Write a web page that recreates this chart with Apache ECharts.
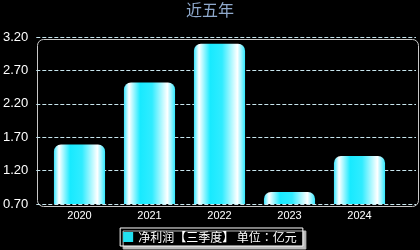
<!DOCTYPE html>
<html><head><meta charset="utf-8">
<style>html,body{margin:0;padding:0;background:#000;}#c{width:420px;height:250px;}</style>
<script src="https://cdn.jsdelivr.net/npm/echarts@6/dist/echarts.min.js"></script>
</head><body><div id="c"></div>
<script>
var categories = ['2020','2021','2022','2023','2024'];
var values = [1.59, 2.52, 3.10, 0.88, 1.42];
var seriesName = '净利润【三季度】 单位：亿元';
var titleText = '近五年';

var chart = echarts.init(document.getElementById('c'), null, {renderer:'canvas'});
var G = {left:35, right:4, top:37, bottom:46};
chart.setOption({
  backgroundColor:'#000',
  animation:false,
  title:{text:titleText, left:'center', top:-3, textStyle:{color:'#8fa9cc', fontSize:16, fontWeight:'normal', fontFamily:'Noto Sans CJK SC'}},
  legend:{
    bottom:4, left:'center', itemWidth:10, itemHeight:10, itemGap:4,
    icon:'rect', padding:[3,6,3,3],
    backgroundColor:'#000', borderColor:'#fff', borderWidth:1, borderRadius:0,
    shadowColor:'#bbb', shadowOffsetX:3, shadowOffsetY:3, shadowBlur:0,
    textStyle:{color:'#fff', fontSize:12, fontFamily:'Noto Sans CJK TC'},
    data:[{name:seriesName, itemStyle:{color:'#22e0f0'}}]
  },
  grid:[
    {left:G.left, right:G.right, top:G.top, bottom:G.bottom, show:false},
    {left:44.5, right:25.5, top:G.top, bottom:G.bottom, show:false}
  ],
  graphic:[{type:'rect', left:G.left, top:G.top, shape:{width:420-G.left-G.right, height:250-G.top-G.bottom, r:6}, style:{fill:null, stroke:'#c8c8c8', lineWidth:1}, silent:true, z:0}],
  xAxis:[
    {type:'category', gridIndex:0, data:categories, show:false},
    {type:'category', gridIndex:1, data:categories,
      axisLine:{show:false}, axisTick:{show:false},
      axisLabel:{color:'#fff', fontSize:11, margin:6, fontFamily:'Arial'}}
  ],
  yAxis:[
    {type:'value', gridIndex:0, min:0.7, max:3.2, interval:0.5,
      axisLine:{show:false}, axisTick:{show:false},
      axisLabel:{color:'#fff', fontSize:13, margin:8, fontFamily:'Arial', formatter:function(v){return v.toFixed(2);}},
      splitLine:{show:true, lineStyle:{color:'#c8e6ee', type:[4,2], width:1}}},
    {type:'value', gridIndex:1, min:0.7, max:3.2, interval:0.5, show:false, splitLine:{show:false}}
  ],
  series:[{type:'bar', name:seriesName, data:values, xAxisIndex:1, yAxisIndex:1, barWidth:'73%',
    itemStyle:{borderRadius:[7,7,0,0],
      color:new echarts.graphic.LinearGradient(0,0,1,0,[
        {offset:0,color:'#3ae6ff'},{offset:0.1,color:'#ffffff'},{offset:0.32,color:'#18eaff'},
        {offset:0.55,color:'#30ecff'},{offset:0.85,color:'#ffffff'},{offset:1,color:'#30e8ff'}])}
  }]
});
</script></body></html>
